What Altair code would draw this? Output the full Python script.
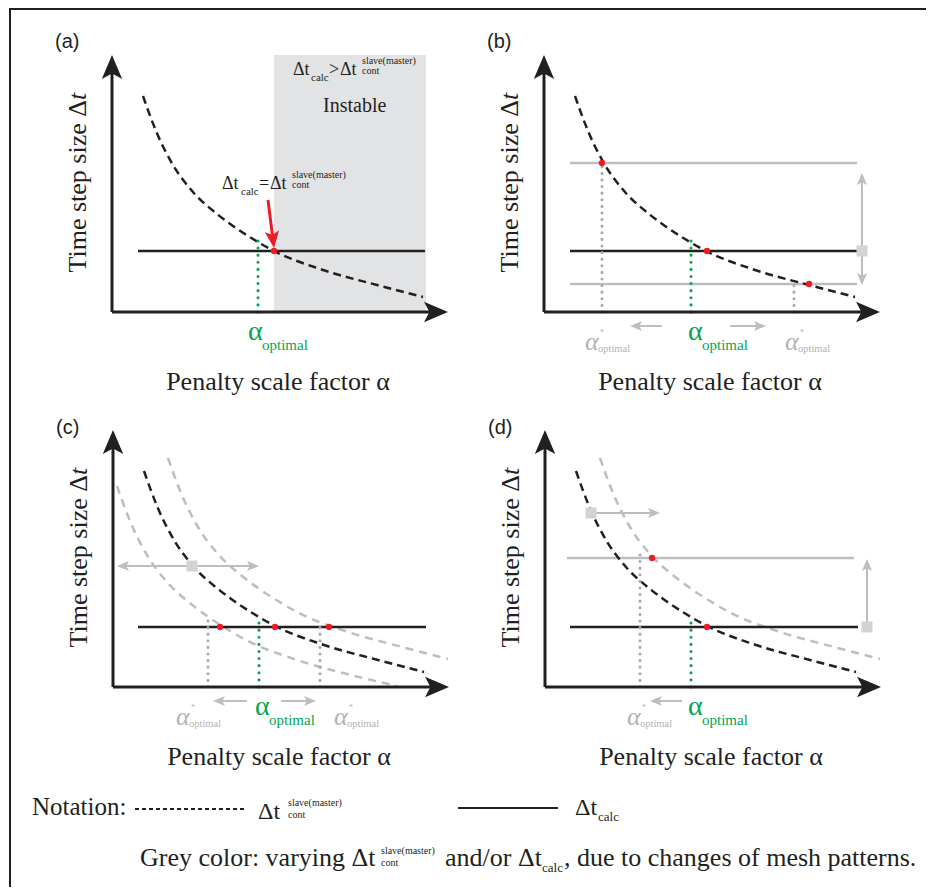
import altair as alt
import pandas as pd
import math

# ---------------------------------------------------------------- layout
W, H = 918, 879
X_DOMAIN = [8, 926]
Y_DOMAIN = [8, 887]
# axis corner of every panel (figure units)
ORIGIN = {"a": (112, 312), "b": (544, 312), "c": (113, 687), "d": (545, 687),
          "n": (32, 810), "frame": (10, 887)}

BLACK = "#231f20"
GREY_LINE = "#bcbec0"
GREY_DOT = "#a7a9ac"
GREY_SQ = "#d1d3d4"
GREY_FILL = "#e2e3e5"
GREY_TXT = "#b1b3b6"
GREEN = "#00a651"
RED = "#ed1c24"
SERIF = "Liberation Serif"
SANS = "Liberation Sans"

# ---------------------------------------------------------------- data (panel units)
# common dashed curve  dt_cont(alpha)
BASE_ALPHA = [31, 44, 61, 81, 105, 121, 141, 162, 208, 265, 311]
BASE_DT = [216, 181, 147, 120, 98, 86, 73, 61, 43, 27, 15]
# grey shifted curves of panel (c) / (d)
LEFT_ALPHA = [4, 17, 34, 54, 78, 94, 114, 135, 181, 238, 284]
LEFT_DT = [201, 166, 132, 105, 83, 71, 58, 46, 28, 12, 1]
RIGHT_ALPHA = [55, 68, 85, 105, 129, 145, 165, 186, 232, 289, 335]
RIGHT_DT = [229, 194, 160, 133, 111, 99, 86, 74, 56, 40, 28]

DT_CALC = {"a": 61, "b": 61, "c": 60, "d": 60}
DT_CALC_GREY_B = [149, 28]
DT_CALC_GREY_D = [129]
ALPHA_OPT = {"a": 146, "b": 147, "c": 146, "d": 146}
ALPHA_OPT_TOP = {"a": 72, "b": 72, "c": 70, "d": 70}

RED_DOTS = {"a": [(162, 61)],
            "b": [(58, 149), (163, 61), (265, 28)],
            "c": [(107, 60), (162, 60), (216, 60)],
            "d": [(162, 60), (107, 129)]}
GREY_DOTTED = {"b": [(58, 149), (250, 32)], "c": [(95, 72), (207, 65)], "d": [(95, 137)]}
SQUARES = {"b": [(318, 61)], "c": [(79, 121)], "d": [(46, 174), (322, 60)]}
# grey thin arrows: (panel, x_start, y_start, x_tip, y_tip)
GREY_ARROWS = [("b", 318, 61, 318, 139), ("b", 318, 61, 318, 27),
               ("b", 118, -14, 86, -14), ("b", 186, -14, 222, -14),
               ("c", 79, 121, 4, 121), ("c", 79, 121, 146, 121),
               ("c", 134, -14, 100, -14), ("c", 168, -14, 203, -14),
               ("d", 46, 174, 115, 174), ("d", 322, 60, 322, 128),
               ("d", 137, -14, 105, -14)]
RED_ARROW = ("a", 156, 112, 162, 64)
INSTABLE = ("a", 162, 314, 0, 257)

AXIS_LEN_X, AXIS_LEN_Y = 336, 257

# texts: panel, x, y, text, font, size, color, align, baseline, style, angle
TEXTS = []
for p, lab in zip("abcd", ["(a)", "(b)", "(c)", "(d)"]):
    TEXTS.append((p, -57, 264 if p in "ab" else 253, lab, SANS, 20, BLACK, "left", "alphabetic", "normal", 0))
    TEXTS.append((p, 166, -78, "Penalty scale factor \u03b1", SERIF, 26, BLACK, "center", "alphabetic", "normal", 0))
    TEXTS.append((p, -34, 212, "Time step size \u0394", SERIF, 26, BLACK, "right", "middle", "normal", 270))
    TEXTS.append((p, -34, 212, "t", SERIF, 26, BLACK, "left", "middle", "italic", 270))

GREEN_LABEL_X = {"a": 136, "b": 144, "c": 142, "d": 143}
for p, gx in GREEN_LABEL_X.items():
    TEXTS.append((p, gx, -28, "\u03b1", SERIF, 28, GREEN, "left", "alphabetic", "normal", 0))
    TEXTS.append((p, gx + 14, -38, "optimal", SERIF, 15, GREEN, "left", "alphabetic", "normal", 0))

GREY_LABEL_X = {"b": [41, 241], "c": [63, 221], "d": [82]}
for p, xs in GREY_LABEL_X.items():
    for gx in xs:
        TEXTS.append((p, gx, -38, "\u03b1", SERIF, 26, GREY_TXT, "left", "alphabetic", "italic", 0))
        TEXTS.append((p, gx + 13, -40, "optimal", SERIF, 10.5, GREY_TXT, "left", "alphabetic", "normal", 0))
        TEXTS.append((p, gx + 15, -23, "*", SERIF, 8, GREY_TXT, "left", "alphabetic", "normal", 0))

# formula annotations in panel (a)
TEXTS += [
    ("a", 110, 123, "\u0394t", SERIF, 18, BLACK, "left", "alphabetic", "normal", 0),
    ("a", 129, 117, "calc", SERIF, 11, BLACK, "left", "alphabetic", "normal", 0),
    ("a", 147, 123, "=", SERIF, 18, BLACK, "left", "alphabetic", "normal", 0),
    ("a", 158, 123, "\u0394t", SERIF, 18, BLACK, "left", "alphabetic", "normal", 0),
    ("a", 180, 134, "slave(master)", SERIF, 10, BLACK, "left", "alphabetic", "normal", 0),
    ("a", 180, 124, "cont", SERIF, 10, BLACK, "left", "alphabetic", "normal", 0),
    ("a", 181, 237, "\u0394t", SERIF, 18, BLACK, "left", "alphabetic", "normal", 0),
    ("a", 199, 231, "calc", SERIF, 11, BLACK, "left", "alphabetic", "normal", 0),
    ("a", 217, 237, ">", SERIF, 18, BLACK, "left", "alphabetic", "normal", 0),
    ("a", 228, 237, "\u0394t", SERIF, 18, BLACK, "left", "alphabetic", "normal", 0),
    ("a", 250, 248, "slave(master)", SERIF, 10, BLACK, "left", "alphabetic", "normal", 0),
    ("a", 250, 238, "cont", SERIF, 10, BLACK, "left", "alphabetic", "normal", 0),
    ("a", 211, 200, "Instable", SERIF, 20, BLACK, "left", "alphabetic", "normal", 0),
]
# notation block
TEXTS += [
    ("n", 0, -5, "Notation:", SERIF, 25, BLACK, "left", "alphabetic", "normal", 0),
    ("n", 226, -9, "\u0394t", SERIF, 24, BLACK, "left", "alphabetic", "normal", 0),
    ("n", 256, 4, "slave(master)", SERIF, 10, BLACK, "left", "alphabetic", "normal", 0),
    ("n", 256, -8, "cont", SERIF, 10, BLACK, "left", "alphabetic", "normal", 0),
    ("n", 543, -5, "\u0394t", SERIF, 24, BLACK, "left", "alphabetic", "normal", 0),
    ("n", 566, -11, "calc", SERIF, 13, BLACK, "left", "alphabetic", "normal", 0),
    ("n", 108, -56, "Grey color: varying \u0394t", SERIF, 26, BLACK, "left", "alphabetic", "normal", 0),
    ("n", 349, -44, "slave(master)", SERIF, 10, BLACK, "left", "alphabetic", "normal", 0),
    ("n", 349, -56, "cont", SERIF, 10, BLACK, "left", "alphabetic", "normal", 0),
    ("n", 413, -56, "and/or \u0394t", SERIF, 26, BLACK, "left", "alphabetic", "normal", 0),
    ("n", 510, -62, "calc", SERIF, 13, BLACK, "left", "alphabetic", "normal", 0),
    ("n", 532, -56, ", due to changes of mesh patterns.", SERIF, 26, BLACK, "left", "alphabetic", "normal", 0),
]
NOTATION_DASH = [(103, 1), (213, 1)]
NOTATION_SOLID = [(426, 2), (526, 2)]


# ---------------------------------------------------------------- helpers
def fig(p, lx, ly):
    ox, oy = ORIGIN[p]
    return ox + lx, oy - ly


def seg_rows(segments):
    rows = []
    for i, seg in enumerate(segments):
        p, pts = seg
        for k, (lx, ly) in enumerate(pts):
            X, Y = fig(p, lx, ly)
            rows.append({"X": X, "Y": Y, "seg": i, "ord": k})
    return rows


xs = alt.Scale(domain=X_DOMAIN, nice=False, zero=False)
ys = alt.Scale(domain=Y_DOMAIN, reverse=True, nice=False, zero=False)
XE = alt.X("X:Q", scale=xs, axis=None)
YE = alt.Y("Y:Q", scale=ys, axis=None)


def line_layer(segments, color, width, dash=None, cap="butt", interp="linear"):
    kw = dict(color=color, strokeWidth=width, strokeCap=cap, interpolate=interp)
    if dash:
        kw["strokeDash"] = dash
    df = pd.DataFrame(seg_rows(segments))
    return alt.Chart(df).mark_line(**kw).encode(x=XE, y=YE, detail="seg:N", order="ord:Q")


def shaft(x0, y0, x1, y1, back):
    dx, dy = x1 - x0, y1 - y0
    L = (dx * dx + dy * dy) ** 0.5
    return (x1 - dx / L * back, y1 - dy / L * back)


# ---------------------------------------------------------------- segments
panels = "abcd"
axes = []
for p in panels:
    axes.append((p, [(0, 0), (0, AXIS_LEN_Y - 14)]))
    axes.append((p, [(0, 0), (AXIS_LEN_X - 14, 0)]))

black_solid = [(p, [(26 if p in "ab" else 25, DT_CALC[p]), (313, DT_CALC[p])]) for p in panels]
black_dashed = [(p, list(zip(BASE_ALPHA, BASE_DT))) for p in panels]
grey_solid = [("b", [(26, v), (313, v)]) for v in DT_CALC_GREY_B] + \
             [("d", [(22, v), (309, v)]) for v in DT_CALC_GREY_D]
grey_dashed = [("c", list(zip(LEFT_ALPHA, LEFT_DT))), ("c", list(zip(RIGHT_ALPHA, RIGHT_DT))),
               ("d", list(zip(RIGHT_ALPHA, RIGHT_DT)))]
green_dotted = [(p, [(ALPHA_OPT[p], 0), (ALPHA_OPT[p], ALPHA_OPT_TOP[p])]) for p in panels]
grey_dotted = [(p, [(x, 0), (x, top)]) for p, lst in GREY_DOTTED.items() for x, top in lst]

grey_shafts = [(p, [(x0, y0), shaft(x0, y0, x1, y1, 6)]) for p, x0, y0, x1, y1 in GREY_ARROWS]
rp, rx0, ry0, rx1, ry1 = RED_ARROW
red_shaft = [(rp, [(rx0, ry0), shaft(rx0, ry0, rx1, ry1, 10)])]
frame = [("frame", [(0, 0), (0, 878), (916, 878)])]
notation_dash = [("n", NOTATION_DASH)]
notation_solid = [("n", NOTATION_SOLID)]

# ---------------------------------------------------------------- point marks
ARROW = "M1,0 L-1,-0.85 L-0.55,0 L-1,0.85 Z"
heads = []


def add_head(p, x0, y0, x1, y1, length, color):
    ang = math.degrees(math.atan2(-(y1 - y0), x1 - x0)) % 360  # screen angle (y down)
    cx, cy = shaft(x0, y0, x1, y1, length / 2)
    X, Y = fig(p, cx, cy)
    heads.append({"X": X, "Y": Y, "size": length * length, "angle": ang, "color": color})


for p in panels:
    add_head(p, 0, 0, 0, AXIS_LEN_Y, 24, BLACK)
    add_head(p, 0, 0, AXIS_LEN_X, 0, 24, BLACK)
for p, x0, y0, x1, y1 in GREY_ARROWS:
    add_head(p, x0, y0, x1, y1, 12, GREY_LINE)
add_head(rp, rx0, ry0, rx1, ry1, 17, RED)
heads_df = pd.DataFrame(heads)

red_df = pd.DataFrame([dict(zip(["X", "Y"], fig(p, x, y))) for p, l in RED_DOTS.items() for x, y in l])
sq_df = pd.DataFrame([dict(zip(["X", "Y"], fig(p, x, y))) for p, l in SQUARES.items() for x, y in l])

ip, ix0, ix1, iy0, iy1 = INSTABLE
X0, Y0 = fig(ip, ix0, iy0)
X1, Y1 = fig(ip, ix1, iy1)
rect_df = pd.DataFrame([{"X": X0, "X2": X1, "Y": Y0, "Y2": Y1}])

# ---------------------------------------------------------------- layers
layers = []
layers.append(alt.Chart(rect_df).mark_rect(color=GREY_FILL).encode(x=XE, x2="X2:Q", y=YE, y2="Y2:Q"))
layers.append(line_layer(frame, BLACK, 2))
layers.append(line_layer(grey_solid, GREY_LINE, 2.5))
layers.append(line_layer(grey_dashed, GREY_LINE, 2.5, dash=[8, 6], interp="monotone"))
layers.append(line_layer(black_solid, BLACK, 2.5))
layers.append(line_layer(black_dashed, BLACK, 2.5, dash=[8, 5], interp="monotone"))
layers.append(line_layer(grey_dotted, GREY_DOT, 3, dash=[0.1, 6.5], cap="round"))
layers.append(line_layer(green_dotted, GREEN, 3, dash=[0.1, 7], cap="round"))
layers.append(line_layer(axes, BLACK, 3))
layers.append(line_layer(grey_shafts, GREY_LINE, 2))
layers.append(line_layer(red_shaft, RED, 3))
layers.append(line_layer(notation_dash, BLACK, 2, dash=[4, 3]))
layers.append(line_layer(notation_solid, BLACK, 2))
layers.append(alt.Chart(sq_df).mark_square(color=GREY_SQ, size=121, opacity=1).encode(x=XE, y=YE))
layers.append(alt.Chart(red_df).mark_circle(color=RED, size=40, opacity=1).encode(x=XE, y=YE))
layers.append(alt.Chart(heads_df).mark_point(shape=ARROW, filled=True, opacity=1, strokeWidth=0).encode(
    x=XE, y=YE, size=alt.Size("size:Q", scale=None), angle=alt.Angle("angle:Q", scale=None),
    color=alt.Color("color:N", scale=None)))

trows = []
for p, lx, ly, txt, font, size, color, align, base, style, ang in TEXTS:
    X, Y = fig(p, lx, ly)
    trows.append({"X": X, "Y": Y, "text": txt, "font": font, "size": size, "color": color,
                  "align": align, "baseline": base, "style": style, "angle": ang})
tdf = pd.DataFrame(trows)
for (font, align, base, style), g in tdf.groupby(["font", "align", "baseline", "style"]):
    layers.append(alt.Chart(g.reset_index(drop=True)).mark_text(
        font=font, align=align, baseline=base, fontStyle=style).encode(
        x=XE, y=YE, text="text:N", size=alt.Size("size:Q", scale=None),
        color=alt.Color("color:N", scale=None), angle=alt.Angle("angle:Q", scale=None)))

chart = alt.layer(*layers).properties(
    width=W, height=H, autosize=alt.AutoSizeParams(type="none"), padding=0
).configure_view(stroke=None)

chart.save("out.html", embed_options={"renderer": "svg", "actions": False})
